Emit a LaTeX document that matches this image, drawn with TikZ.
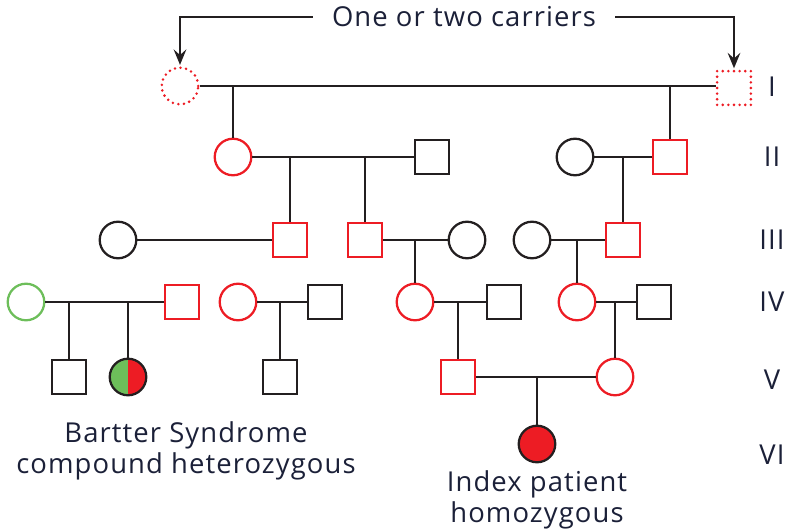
\documentclass[tikz,border=0pt]{standalone}
\usepackage{fontspec}
\setmainfont{Open Sans}[LetterSpace=4]
\usetikzlibrary{arrows.meta}
\definecolor{pedred}{HTML}{ED1C24}
\definecolor{pedgreen}{HTML}{6DBE5A}
\definecolor{pedblack}{HTML}{231F20}
\definecolor{pedtext}{HTML}{1B2038}

\begin{document}
\begin{tikzpicture}[x=0.025cm,y=-0.025cm,line width=1.6pt,draw=pedblack,
    male/.style={draw=pedblack,fill=white,minimum size=24pt,inner sep=0pt},
    female/.style={circle,draw=pedblack,fill=white,minimum size=26pt,inner sep=0pt},
    carrier/.style={draw=pedred},
    affected/.style={fill=pedred},
    maybe/.style={draw=pedred,line width=2pt,line cap=round,dash pattern=on 0pt off 4pt},
    lbl/.style={text=pedtext,font=\fontsize{19.5}{22}\selectfont,align=center},
    arr/.style={-{Stealth[length=11pt,width=9pt,inset=4pt]},shorten >=1pt}]
    \useasboundingbox (0,0) rectangle (788,531);
    % generation I
    \node[female,maybe] (i1) at (180,86) {};
    \node[male,maybe] (i2) at (734,88) {};
    \node[lbl,inner xsep=13pt] (carriers) at (464,17) {One or two carriers};
    \draw[arr] (carriers.west) -| (i1); \draw[arr] (carriers.east) -| (i2);
    % generation II
    \node[female,carrier] (ii1) at (233,157) {};
    \node[male] (ii2) at (432,157) {};
    \node[female] (ii3) at (575,157) {};
    \node[male,carrier] (ii4) at (670,157) {};
    % generation III
    \node[female] (iii1) at (118,240) {};
    \node[male,carrier] (iii2) at (290,240) {};
    \node[male,carrier] (iii3) at (365,240) {};
    \node[female] (iii4) at (467,240) {};
    \node[female] (iii5) at (532,240) {};
    \node[male,carrier] (iii6) at (623,240) {};
    % generation IV
    \node[female,draw=pedgreen] (iv1) at (26,302) {};
    \node[male,carrier] (iv2) at (182,302) {};
    \node[female,carrier] (iv3) at (238,302) {};
    \node[male] (iv4) at (325,302) {};
    \node[female,carrier] (iv5) at (415,302) {};
    \node[male] (iv6) at (504,302) {};
    \node[female,carrier] (iv7) at (577,302) {};
    \node[male] (iv8) at (654,302) {};
    % generation V
    \node[male] (v1) at (69,377) {};
    \node[female,path picture={
        \fill[pedgreen] (path picture bounding box.south west) rectangle (path picture bounding box.north);
        \fill[pedred] (path picture bounding box.south) rectangle (path picture bounding box.north east);}]
      (v2) at (128,377) {};
    \node[male] (v3) at (280,377) {};
    \node[male,carrier] (v4) at (458,377) {};
    \node[female,carrier] (v5) at (615,377) {};
    % generation VI
    \node[female,affected] (vi1) at (537,444) {};
    % couples
    \draw (i1) -- (i1 -| i2.west); \draw (ii1) -- (ii2); \draw (ii3) -- (ii4);
    \draw (iii1) -- (iii2); \draw (iii3) -- (iii4); \draw (iii5) -- (iii6);
    \draw (iv1) -- (iv2); \draw (iv3) -- (iv4); \draw (iv5) -- (iv6);
    \draw (iv7) -- (iv8); \draw (v4) -- (v5);
    % descent lines
    \foreach \up/\kid in {i1/ii1,i1/ii4,ii1/iii2,ii1/iii3,ii3/iii6,iii3/iv5,
      iii5/iv7,iv1/v1,iv1/v2,iv3/v3,iv5/v4,iv7/v5,v4/vi1} {
      \coordinate (j-\kid) at (\kid |- \up);
      \draw (j-\kid) -- (\kid); }
    % labels
    \foreach \g/\y in {I/87,II/157,III/240,IV/302,V/380,VI/455}
      \node[lbl] (gen\g) at (772,\y) {\g};
    \node[lbl] (bartter) at (186,451) {Bartter Syndrome\\compound heterozygous};
    \node[lbl] (index) at (537,500) {Index patient\\homozygous};
  \end{tikzpicture}
\end{document}
